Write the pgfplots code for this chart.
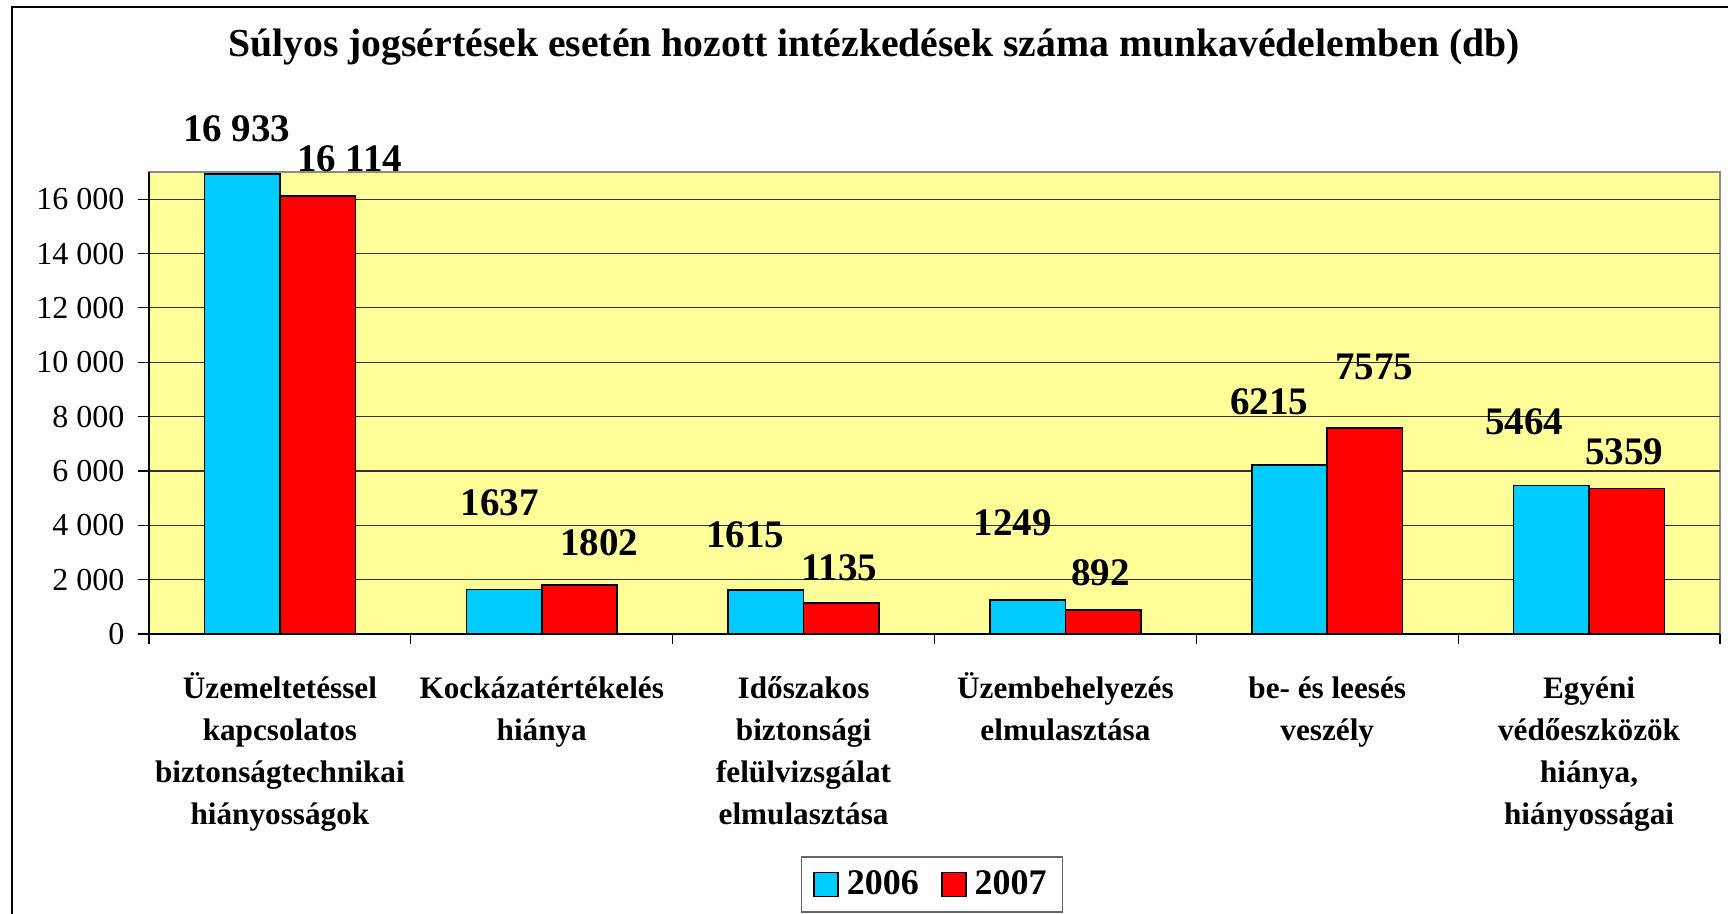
\documentclass[border=0pt]{standalone}
\usepackage{fontspec}
\setmainfont{Liberation Serif}
\usepackage{pgfplots}
\pgfplotsset{compat=1.18}
\usepackage{pgfplotstable}

\definecolor{barcyan}{RGB}{0,204,255}
\definecolor{barred}{RGB}{255,0,0}
\definecolor{plotbg}{RGB}{255,255,153}
\newcommand{\fl}{\rule{0pt}{16pt}}

\pgfplotstableread{
x y
0 16933
1 1637
2 1615
3 1249
4 6215
5 5464
}\tabA
\pgfplotstableread{
x y
0 16114
1 1802
2 1135
3 892
4 7575
5 5359
}\tabB
\pgfplotstableread{
x y label
-0.165 18601 16~933
0.267 17499 16~114
0.840 4811 1637
1.219 3342 1802
1.777 3636 1615
2.137 2424 1135
2.798 4076 1249
3.134 2240 892
3.779 8557 6215
4.179 9824 7575
4.752 7804 5464
5.134 6702 5359
}\tabLabels

\begin{document}
\begin{tikzpicture}
\useasboundingbox (-74.5pt,-140pt) rectangle (789.5pt,317pt);
\draw[line width=1pt] (-68.5pt,-141pt) -- (-68.5pt,313.5pt) -- (790pt,313.5pt);
\node[anchor=base, font=\bfseries\fontsize{19.85}{23}\selectfont, inner sep=0pt] at (362.5pt,288.5pt)
  {Súlyos jogsértések esetén hozott intézkedések száma munkavédelemben (db)};
\begin{axis}[
  at={(0pt,0pt)}, anchor=south west,
  scale only axis, width=785.5pt, height=231pt,
  xmin=-0.5, xmax=5.5, ymin=0, ymax=17000,
  clip=false,
  axis lines*=left,
  axis line style={black, line width=0.8pt, -},
  axis background/.style={fill=plotbg, draw=black!45, line width=1pt},
  ymajorgrids,
  grid style={black!80, line width=0.6pt},
  tick align=outside,
  major tick length=5.5pt,
  ytick={0,2000,...,16000},
  scaled y ticks=false,
  every y tick/.style={black, line width=0.6pt},
  yticklabel style={font=\fontsize{16}{19}\selectfont, xshift=-3.3pt},
  /pgf/number format/fixed,
  /pgf/number format/precision=0,
  /pgf/number format/1000 sep={\ },
  /pgf/number format/assume math mode=true,
  xtick={0,...,5},
  major x tick style={draw=none},
  minor xtick={-0.5,0.5,...,5.5},
  minor tick length=5pt,
  minor x tick style={black, line width=0.6pt},
  xticklabels={
    {\fl Üzemeltetéssel\\kapcsolatos\\biztonságtechnikai\\hiányosságok},
    {\fl Kockázatértékelés\\hiánya},
    {\fl Időszakos\\biztonsági\\felülvizsgálat\\elmulasztása},
    {\fl Üzembehelyezés\\elmulasztása},
    {\fl be- és leesés\\veszély},
    {\fl Egyéni\\védőeszközök\\hiánya,\\hiányosságai}},
  xticklabel style={align=center, font=\bfseries\fontsize{15.6}{21}\selectfont,
    anchor=north, yshift=-7pt},
  legend columns=2,
  legend image code/.code={\draw[#1, draw=black, line width=0.8pt] (0pt,-6pt) rectangle (12pt,6pt);},
  legend style={at={(0.4984,-0.542)}, anchor=center,
    draw=black!60, line width=0.8pt,
    font=\bfseries\fontsize{18}{21}\selectfont,
    /tikz/every odd column/.append style={column sep=2pt},
    /tikz/every even column/.append style={column sep=9pt},
    inner xsep=6pt, inner ysep=5pt},
]
\addplot[ybar, bar width=0.288, bar shift=-0.144, fill=barcyan, draw=black, line width=0.8pt]
  table[x=x, y=y] {\tabA};
\addlegendentry{2006}
\addplot[ybar, bar width=0.288, bar shift=0.144, fill=barred, draw=black, line width=0.8pt]
  table[x=x, y=y] {\tabB};
\addlegendentry{2007}
\addplot[draw=none, mark=none, forget plot,
  nodes near coords, point meta=explicit symbolic,
  every node near coord/.append style={anchor=center, inner sep=0pt,
    font=\bfseries\fontsize{19.5}{22}\selectfont}]
  table[x=x, y=y, meta=label] {\tabLabels};
\end{axis}
\end{tikzpicture}
\end{document}
